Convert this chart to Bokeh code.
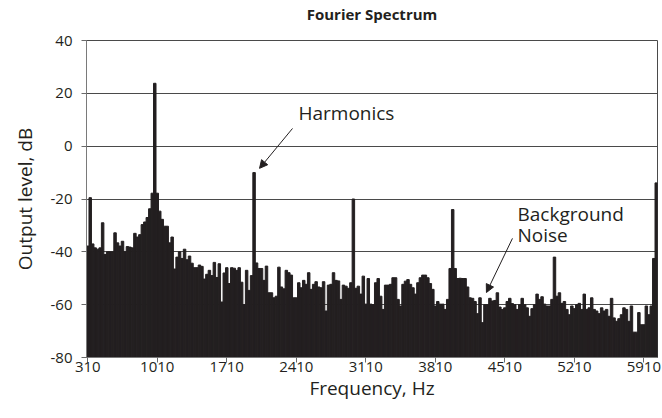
from bokeh.plotting import figure
from bokeh.models import (FixedTicker, Label, Arrow, NormalHead, ColumnDataSource,
                          LinearAxis)
from bokeh.embed import file_html
from bokeh.resources import INLINE

# ---- data -------------------------------------------------------------
bin_start_hz = 310
bin_step_hz = 25

band_310_1960 = [-37.8, -19.5, -37, -38.5, -39, -38.5, -29, -41, -40, -40,
                 -40, -32.8, -36.6, -37.8, -36, -40, -38, -38.2, -38.5, -33,
                 -34.4, -33.5, -29.7, -28.7, -27, -23.7, -17.8, 23.8, -17.8, -24.6,
                 -27.7, -30.3, -30.3, -36.6, -34.4, -46.5, -42, -40, -42.5, -39,
                 -43, -41.6, -44.3, -46, -46, -45, -45.5, -50.3, -48.5, -47,
                 -49, -44, -49.7, -44.5, -59, -48, -46, -52, -46, -46.2,
                 -47, -46, -51.5, -60, -47, -54.6, -49]
harmonic_2 = [-10]
band_2010_2960 = [-44.2, -46.3, -46.3, -50.8, -45.4, -55.5, -55.5, -57.4, -56.8, -45.8,
                  -53.3, -54, -47, -47.9, -48.8, -57.4, -57.4, -51.7, -53.6, -50.8,
                  -52.3, -47.9, -54.2, -52.3, -51.3, -53.3, -53.6, -51.3, -62.4, -52.6,
                  -52.3, -47.9, -50.8, -51, -58, -52.6, -53, -53.8, -51.7]
harmonic_3 = [-20]
band_3010_3960 = [-53.8, -53, -56, -49.2, -59.8, -50.1, -59.8, -60, -51.7, -50.1,
                  -56.8, -61.8, -52.6, -52.6, -52.3, -49.8, -49.8, -58, -60.5, -52.3,
                  -51.1, -50.5, -52.3, -53.6, -56, -51.7, -49.8, -48.8, -48.8, -49.8,
                  -52, -54.2, -60.5, -58.8, -59.8, -59.8, -61.8, -58, -46.3]
harmonic_4 = [-24]
band_4010_4985 = [-46.3, -50.1, -50, -50.1, -50.1, -53.3, -57.4, -57.6, -58.8, -63.4,
                  -57.4, -66.8, -60, -60, -57.6, -58.6, -58.4, -55.5, -60.9, -61.8,
                  -61.2, -58.8, -57.6, -59.6, -60, -61.8, -60, -57.6, -60, -61.2,
                  -64.4, -61.5, -60, -56, -58, -57, -59.8, -60.5, -60.5, -58]
harmonic_5 = [-42]
band_5035_6010 = [-56.8, -55.5, -59.5, -58.8, -61.8, -63.8, -60.5, -61.5, -60, -59.5,
                  -61.8, -56, -61.8, -61.2, -57.4, -61.8, -62.4, -63.4, -61.2, -62.4,
                  -61.8, -64.4, -57.6, -65, -66.3, -65.3, -63.8, -61.2, -61.8, -66.3,
                  -60.5, -70.4, -70.4, -63, -67.6, -67.6, -60.5, -63.8, -60.5, -42.5]
harmonic_6 = [-13.9]

x_tick_labels = ["310", "1010", "1710", "2410", "3110", "3810", "4510", "5210", "5910"]
y_ticks = [-80, -60, -40, -20, 0, 20, 40]
title_text = "Fourier Spectrum"

levels_db = (band_310_1960 + harmonic_2 + band_2010_2960 + harmonic_3 +
             band_3010_3960 + harmonic_4 + band_4010_4985 + harmonic_5 +
             band_5035_6010 + harmonic_6)
freqs_hz = [bin_start_hz + bin_step_hz * i for i in range(len(levels_db))]

# ---- figure -----------------------------------------------------------
FONT = "Open Sans"
INK = "#231f20"

x_lo = freqs_hz[0] - bin_step_hz / 2
x_hi = freqs_hz[-1] + bin_step_hz / 2

p = figure(frame_width=571, frame_height=317,
           x_range=(x_lo, x_hi), y_range=(-80, 40),
           output_backend="svg", toolbar_location=None)
p.min_border_left = 86
p.min_border_right = 5
p.min_border_top = 40
p.min_border_bottom = 51
p.background_fill_color = "white"
p.border_fill_color = "white"
p.outline_line_color = "#4a4a4a"
p.outline_line_width = 1

src = ColumnDataSource(dict(f=freqs_hz, db=levels_db))
p.vbar(x="f", top="db", bottom=-80, width=bin_step_hz, source=src,
       fill_color=INK, line_color=INK, line_width=1)

# axes
p.xaxis.ticker = FixedTicker(ticks=[int(t) for t in x_tick_labels])
p.xaxis.major_label_overrides = {int(t): t for t in x_tick_labels}
p.yaxis.ticker = FixedTicker(ticks=y_ticks)
p.yaxis.major_label_overrides = {t: str(t) for t in y_ticks}

for ax in (p.xaxis[0], p.yaxis[0]):
    ax.minor_tick_line_color = None
    ax.major_tick_in = 0
    ax.major_tick_out = 5
    ax.major_tick_line_color = "#6a6a6a"
    ax.axis_line_color = "#7a7a7a"
    ax.major_label_text_font = FONT
    ax.major_label_text_font_size = "15px"
    ax.major_label_text_color = INK
    ax.axis_label_text_font = FONT
    ax.axis_label_text_font_size = "19px"
    ax.axis_label_text_font_style = "normal"
    ax.axis_label_text_color = INK

p.xaxis.axis_label = "Frequency, Hz"
p.yaxis.axis_label = "Output level, dB"
p.xaxis.major_label_standoff = -1
p.xaxis.axis_label_standoff = 0
p.yaxis.major_label_standoff = 9
p.yaxis.axis_label_standoff = 10

p.xgrid.grid_line_color = None
p.ygrid.ticker = FixedTicker(ticks=y_ticks)
p.ygrid.grid_line_color = "#4a4a4a"
p.ygrid.grid_line_width = 1

# chart title, carried by a tick-less axis above the frame
title_axis = LinearAxis(axis_label=title_text, ticker=FixedTicker(ticks=[]),
                        axis_line_color=None, major_tick_line_color=None,
                        minor_tick_line_color=None,
                        major_label_text_font_size="0px",
                        major_tick_out=0, major_tick_in=0,
                        major_label_standoff=0,
                        axis_label_standoff=17,
                        axis_label_text_font=FONT,
                        axis_label_text_font_size="15px",
                        axis_label_text_font_style="bold",
                        axis_label_text_color=INK)
p.add_layout(title_axis, "above")

# annotations
p.add_layout(Label(x=2432, y=12.4, text="Harmonics", text_font=FONT,
                   text_font_size="19px", text_color=INK,
                   text_baseline="alphabetic"))
p.add_layout(Arrow(x_start=2372, y_start=6.7, x_end=2040, y_end=-8.4,
                   line_color=INK, line_width=1,
                   end=NormalHead(size=8, fill_color=INK, line_color=INK)))
p.add_layout(Label(x=4638, y=-25.8, text="Background", text_font=FONT,
                   text_font_size="19px", text_color=INK,
                   text_baseline="alphabetic"))
p.add_layout(Label(x=4638, y=-33.8, text="Noise", text_font=FONT,
                   text_font_size="19px", text_color=INK,
                   text_baseline="alphabetic"))
p.add_layout(Arrow(x_start=4587, y_start=-34.9, x_end=4325, y_end=-55.4,
                   line_color=INK, line_width=1,
                   end=NormalHead(size=8, fill_color=INK, line_color=INK)))

open("out.html", "w").write(file_html(p, INLINE))
